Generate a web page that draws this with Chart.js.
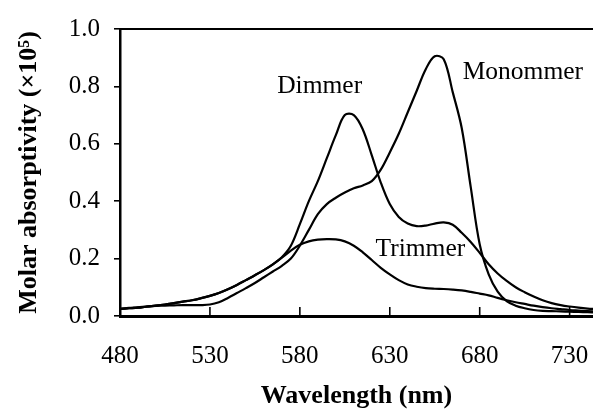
<!DOCTYPE html>
<html>
<head>
<meta charset="utf-8">
<script src="https://cdn.jsdelivr.net/npm/chart.js@4"></script>
<style>
  body { margin: 0; background: #fff; overflow: hidden; }
</style>
</head>
<body>
<canvas id="canvas" width="593" height="412"></canvas>
<script>
var ctx = document.getElementById("canvas").getContext("2d");

// wavelength (nm)
var wavelengths = [480,485,490,495,500,505,510,515,520,525,530,535,540,545,550,555,560,565,570,575,
                   580,585,590,595,600,605,610,615,620,625,630,635,640,645,650,655,660,665,670,675,
                   680,685,690,695,700,705,710,715,720,725,730,735,740,745];

var xTicks = [480, 530, 580, 630, 680, 730];

var monomer = [0.025,0.028,0.030,0.033,0.035,0.036,0.037,0.038,0.038,0.038,0.040,0.048,0.063,0.080,0.097,0.115,0.135,0.155,0.175,0.200,
               0.245,0.300,0.355,0.390,0.412,0.430,0.445,0.455,0.470,0.510,0.570,0.635,0.710,0.785,0.860,0.905,0.895,0.780,0.655,0.450,
               0.250,0.145,0.085,0.052,0.036,0.027,0.021,0.018,0.017,0.016,0.015,0.014,0.013,0.012];

var dimer = [0.025,0.027,0.029,0.033,0.036,0.040,0.045,0.050,0.055,0.062,0.070,0.080,0.093,0.108,0.125,0.142,0.160,0.180,0.205,0.245,
             0.320,0.400,0.470,0.550,0.630,0.700,0.700,0.650,0.560,0.465,0.390,0.345,0.322,0.313,0.315,0.322,0.326,0.318,0.290,0.258,
             0.220,0.180,0.148,0.122,0.100,0.083,0.068,0.055,0.045,0.038,0.033,0.029,0.026,0.024];

var trimer = [0.025,0.027,0.029,0.033,0.036,0.040,0.045,0.050,0.055,0.062,0.070,0.080,0.093,0.108,0.125,0.142,0.160,0.180,0.203,0.228,
              0.248,0.260,0.266,0.268,0.267,0.260,0.245,0.222,0.195,0.168,0.145,0.125,0.110,0.102,0.097,0.095,0.094,0.092,0.089,0.084,
              0.078,0.072,0.063,0.055,0.048,0.042,0.036,0.031,0.027,0.024,0.021,0.019,0.017,0.016];

// text labels placed in data coordinates
var noteText = ["Dimmer", "Monommer", "Trimmer"];
var noteX = [591, 704, 647];
var noteY = [0.80, 0.848, 0.234];

var serif = "'Liberation Serif', 'Times New Roman', serif";

function toPoints(ys) {
    return wavelengths.map(function(w, i) { return {x: w, y: ys[i]}; });
}

function lineSet(label, ys) {
    return {
        label: label,
        data: toPoints(ys),
        borderColor: '#000',
        borderWidth: 2.2,
        pointRadius: 0,
        fill: false,
        tension: 0.35
    };
}

var extras = {
    id: 'extras',
    afterDatasetsDraw: function(chart) {
        var c = chart.ctx;
        var area = chart.chartArea;
        var xs = chart.scales.x, ys = chart.scales.y;
        c.save();
        c.strokeStyle = '#000';
        // top frame line
        c.lineWidth = 2;
        c.beginPath();
        c.moveTo(area.left, area.top);
        c.lineTo(area.right, area.top);
        c.stroke();
        // inward x ticks
        c.lineWidth = 1.6;
        xs.ticks.forEach(function(t) {
            var px = xs.getPixelForValue(t.value);
            c.beginPath();
            c.moveTo(px, area.bottom);
            c.lineTo(px, area.bottom - 9);
            c.stroke();
        });
        // curve labels
        c.fillStyle = '#000';
        c.font = "25.5px " + serif;
        c.textAlign = 'center';
        c.textBaseline = 'middle';
        for (var i = 0; i < noteText.length; i++) {
            c.fillText(noteText[i], xs.getPixelForValue(noteX[i]), ys.getPixelForValue(noteY[i]));
        }
        c.restore();
    }
};

var chart = new Chart(ctx, {
    type: 'line',
    data: {
        datasets: [lineSet('Monommer', monomer), lineSet('Dimmer', dimer), lineSet('Trimmer', trimer)]
    },
    options: {
        responsive: false,
        animation: false,
        layout: {padding: {top: 26, right: 0, left: 0, bottom: 0}},
        plugins: {legend: {display: false}, tooltip: {enabled: false}},
        scales: {
            x: {
                type: 'linear',
                min: 480,
                max: 743,
                afterBuildTicks: function(s) { s.ticks = xTicks.map(function(v) { return {value: v}; }); },
                afterFit: function(s) { s.height = 96; s.paddingRight = 0; },
                ticks: {color: '#000', padding: 25, font: {family: serif, size: 25}, maxRotation: 0},
                grid: {display: true, drawOnChartArea: false, drawTicks: false, color: '#000'},
                border: {color: '#000', width: 3},
                title: {display: true, text: 'Wavelength (nm)', color: '#000', padding: 0,
                        font: {family: serif, size: 26, weight: 'bold'}}
            },
            y: {
                min: 0,
                max: 1.0,
                afterFit: function(s) { s.width = 120; },
                ticks: {stepSize: 0.2, color: '#000', padding: 14, font: {family: serif, size: 25},
                        callback: function(v) { return v.toFixed(1); }},
                grid: {display: true, drawOnChartArea: false, drawTicks: true, tickLength: 6, color: '#000', lineWidth: 1.6},
                border: {color: '#000', width: 2.5},
                title: {display: true, text: 'Molar absorptivity (\u00d710\u2075)', color: '#000', padding: {top: 14, bottom: 0},
                        font: {family: serif, size: 26, weight: 'bold'}}
            }
        }
    },
    plugins: [extras]
});
</script>
</body>
</html>
